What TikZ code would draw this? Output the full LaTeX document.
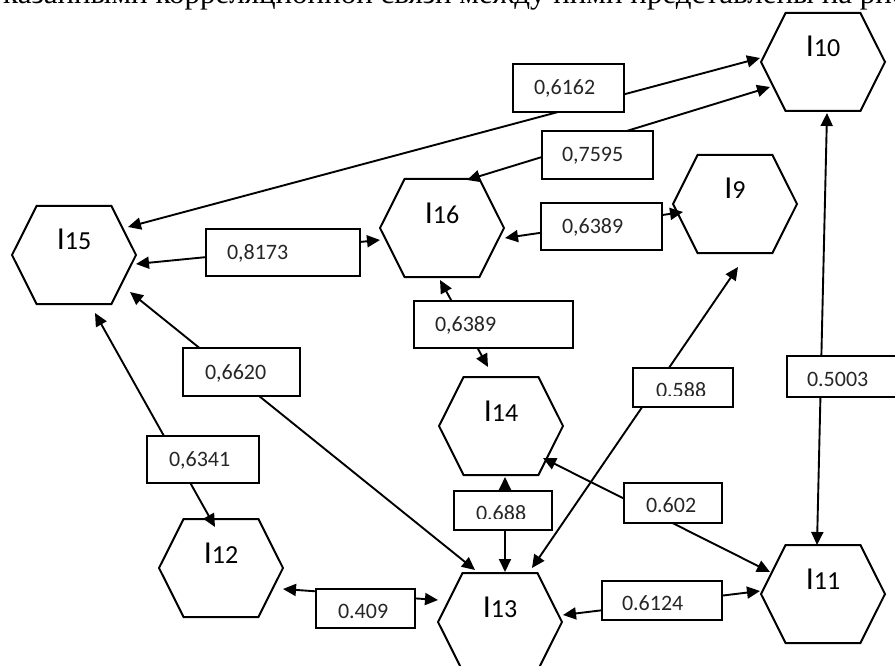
\documentclass[tikz,border=0pt]{standalone}
\usepackage{fontspec}
\newfontfamily\carlito{Carlito}
\newfontfamily\rusfont{Liberation Serif}
\usetikzlibrary{arrows.meta,calc}
\begin{document}
\begin{tikzpicture}[x=1pt,y=-1pt,
  hexnode/.style={rectangle,draw=none,minimum width=124pt,minimum height=98pt,inner sep=0pt,outer sep=0pt,text height=20pt,text depth=30pt,font=\carlito\fontsize{26}{26}\selectfont},
  hexline/.style={line width=2pt,line join=miter},
  valbox/.style={draw,fill=white,line width=2pt,rectangle,inner sep=0pt,outer sep=0pt,align=left,font=\carlito\fontsize{22}{22}\selectfont,text height=14pt,text depth=0pt,text=black!85},
  lowbox/.style={valbox,text height=19.5pt},
  link/.style={line width=1.9pt,{Triangle[length=13pt,width=12pt]}-{Triangle[length=13pt,width=12pt]}},
  mask/.style={fill=white,draw=none}
]
\clip (0,0) rectangle (895,666);
\fill[white] (0,0) rectangle (895,666);

% clipped caption line at the top
\node[anchor=base west,inner sep=0pt,font=\rusfont\fontsize{31}{31}\selectfont] (caption) at (3,4) {\llap{у}казанными корреляционной связи между ними представлены на рис.};

% hexagons
\node[hexnode] (I10) at (823,62)  {{\fontsize{32}{32}\selectfont I}10};
\node[hexnode] (I15) at (74,255)  {{\fontsize{32}{32}\selectfont I}15};
\node[hexnode] (I16) at (442,228) {{\fontsize{32}{32}\selectfont I}16};
\node[hexnode] (I9)  at (735,204) {{\fontsize{32}{32}\selectfont I}9};
\node[hexnode] (I14) at (501,426) {{\fontsize{32}{32}\selectfont I}14};
\node[hexnode] (I13) at (500,622) {{\fontsize{32}{32}\selectfont I}13};
\node[hexnode] (I11) at (823,594) {{\fontsize{32}{32}\selectfont I}11};
\node[hexnode] (I12) at (221,568) {{\fontsize{32}{32}\selectfont I}12};
\foreach \n in {I9,I10,I11,I12,I13,I14,I15,I16}
  \draw[hexline] (\n.west) -- ($(\n.north west)!0.198!(\n.north east)$) -- ($(\n.north east)!0.198!(\n.north west)$) -- (\n.east) -- ($(\n.south east)!0.198!(\n.south west)$) -- ($(\n.south west)!0.198!(\n.south east)$) -- cycle;

% connectors
\draw[link] ($(I15)+(54,-28)$) -- ($(I10)+(-63,-4)$);
\draw[link] ($(I16)+(25,-48)$) -- ($(I10)+(-53,25)$);
\draw[link] ($(I15)+(62,9)$)   -- ($(I16)+(-62,12)$);
\draw[link] ($(I16)+(63,10)$)  -- ($(I9)+(-52,8)$);
\draw[link] ($(I16)+(-2,52)$)  -- ($(I14)+(-13,-59)$);
\draw[link] ($(I9)+(3,63)$)    -- ($(I13)+(32,-54)$);
\draw[link] ($(I15)+(56,37)$)  -- ($(I13)+(-25,-52)$);
\draw[link] ($(I15)+(21,58)$)  -- ($(I12)+(-6,-41)$);
\draw[link] ($(I14)+(4,51)$)   -- ($(I13)+(5,-50)$);
\draw[link] ($(I14)+(42,32)$)  -- ($(I11)+(-53,-22)$);
\draw[link] ($(I13)+(63,-7)$)  -- ($(I11)+(-63,-3)$);
\draw[link] ($(I12)+(62,21)$)  -- ($(I13)+(-62,-22)$);
\draw[link] ($(I10)+(4,51)$)   -- ($(I11)+(-6,-49)$);

% value boxes
\node[valbox,text width=111pt,minimum height=48pt] (b6162) at (568.5,88) {\hspace*{21pt}0,6162};
\node[valbox,text width=111pt,minimum height=48pt] (b7595) at (597.5,155) {\hspace*{20pt}0,7595};
\node[valbox,text width=154pt,minimum height=47pt] (b8173) at (283,252.5) {\hspace*{21pt}0,8173};
\node[valbox,text width=121pt,minimum height=47pt] (b6389a) at (601.5,226.5) {\hspace*{21pt}0,6389};
\node[valbox,text width=159pt,minimum height=47pt] (b6389b) at (493.5,324.5) {\hspace*{21pt}0,6389};
\node[lowbox,text width=100pt,minimum height=39pt] (b588) at (683,387.5) {\hspace*{23pt}0.588};
\node[valbox,text width=117pt,minimum height=48pt] (b6620) at (241.5,372) {\hspace*{22pt}0,6620};
\node[valbox,text width=112pt,minimum height=47pt] (b6341) at (203,459.5) {\hspace*{22pt}0,6341};
\node[lowbox,text width=98pt,minimum height=39pt] (b688) at (503,510.5) {\hspace*{22pt}0.688};
\node[lowbox,text width=98pt,minimum height=40pt] (b602) at (673,503) {\hspace*{22pt}0.602};
\node[lowbox,text width=120pt,minimum height=39pt] (b6124) at (662,600.5) {\hspace*{20pt}0.6124};
\node[lowbox,text width=99pt,minimum height=39pt] (b409) at (365.5,608.5) {\hspace*{22pt}0.409};
\node[lowbox,text width=118pt,minimum height=41pt] (b5003) at (846,376.5) {\hspace*{20pt}0.5003};

% text cut off at the bottom in two boxes
\fill[mask] ($(b588.south west)+(3,-11.5)$) rectangle ($(b588.south east)+(-3,-1.2)$);
\fill[mask] ($(b688.south west)+(3,-11.5)$) rectangle ($(b688.south east)+(-3,-1.2)$);
\end{tikzpicture}
\end{document}
